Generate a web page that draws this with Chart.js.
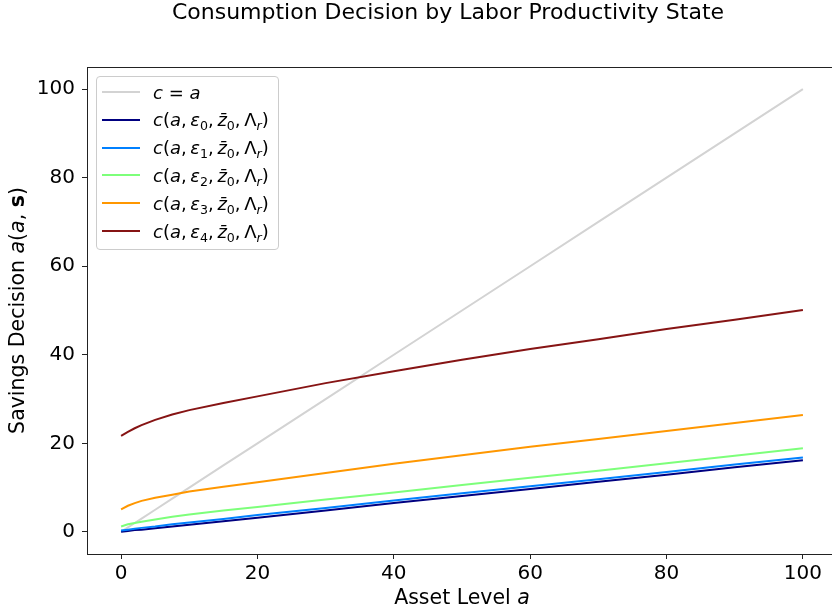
<!DOCTYPE html>
<html>
<head>
<meta charset="utf-8">
<script src="https://cdn.jsdelivr.net/npm/chart.js@4.4.0/dist/chart.umd.min.js"></script>
<style>
  html, body { margin: 0; padding: 0; background: #fff; }
  #wrap { position: relative; width: 832px; height: 614px; overflow: hidden; }
  #policyChart { position: absolute; left: 0; top: 0; }
  #legend {
    position: absolute; left: 96px; top: 76px; width: 181px; height: 172px;
    border: 1px solid #ccc; border-radius: 4px; background: rgba(255,255,255,0.8);
    font-family: 'DejaVu Sans'; font-size: 18px; color: #000;
  }
  #legend .row { position: absolute; left: 5px; height: 28px; display: flex; align-items: center; white-space: nowrap; }
  #legend .swatch { width: 38px; height: 2px; margin-right: 13px; }
  #legend sub { font-size: 70%; vertical-align: -0.3em; line-height: 0; }
</style>
</head>
<body>
<div id="wrap">
  <canvas id="policyChart" width="900" height="614"></canvas>
  <div id="legend"></div>
</div>
<script>
// asset grid and policy values per productivity state
const assetGrid = [0, 1, 2, 3, 5, 7.5, 10, 15, 20, 30, 40, 50, 60, 70, 80, 90, 100];
const diagonal  = [0, 1, 2, 3, 5, 7.5, 10, 15, 20, 30, 40, 50, 60, 70, 80, 90, 100];
const eps0 = [0.0, 0.2, 0.4, 0.5, 0.8, 1.2, 1.6, 2.4, 3.2, 4.8, 6.5, 8.1, 9.7, 11.3, 12.9, 14.6, 16.2];
const eps1 = [0.3, 0.5, 0.7, 0.9, 1.2, 1.7, 2.1, 2.9, 3.8, 5.4, 7.1, 8.7, 10.3, 11.9, 13.5, 15.2, 16.8];
const eps2 = [1.2, 1.7, 2.0, 2.3, 2.8, 3.4, 3.9, 4.8, 5.6, 7.3, 8.9, 10.6, 12.2, 13.8, 15.5, 17.2, 18.9];
const eps3 = [5.1, 5.9, 6.5, 7.0, 7.7, 8.4, 9.1, 10.2, 11.2, 13.3, 15.4, 17.3, 19.2, 21.0, 22.8, 24.6, 26.4];
const eps4 = [21.7, 22.6, 23.4, 24.1, 25.3, 26.5, 27.5, 29.1, 30.6, 33.6, 36.3, 38.9, 41.3, 43.5, 45.8, 47.9, 50.1];

const xTicks = [0, 20, 40, 60, 80, 100];
const yTicks = [0, 20, 40, 60, 80, 100];

const seriesNames = ['c = a', 'c(a, ε0, z̄0, Λr)', 'c(a, ε1, z̄0, Λr)', 'c(a, ε2, z̄0, Λr)', 'c(a, ε3, z̄0, Λr)', 'c(a, ε4, z̄0, Λr)'];
const seriesValues = [diagonal, eps0, eps1, eps2, eps3, eps4];
const seriesColors = ['#d3d3d3', '#000080', '#0080ff', '#7dff7a', '#ff9700', '#861414'];

const FONT = 'DejaVu Sans';

function mathLabel(i) {
  if (i === 0) return '<i>c</i> = <i>a</i>';
  return '<i>c</i>(<i>a</i>,&thinsp;<i>ε</i><sub>' + (i - 1) + '</sub>,&thinsp;<i>z&#772;</i><sub>0</sub>,&thinsp;Λ<sub><i>r</i></sub>)';
}

// legend box inside the axes
const legendEl = document.getElementById('legend');
seriesNames.forEach((name, i) => {
  const row = document.createElement('div');
  row.className = 'row';
  row.style.top = (1 + i * 27.8) + 'px';
  row.innerHTML = '<span class="swatch" style="background:' + seriesColors[i] + '"></span><span>' + mathLabel(i) + '</span>';
  legendEl.appendChild(row);
});

const datasets = seriesNames.map((name, i) => ({
  label: name,
  data: assetGrid.map((a, k) => ({ x: a, y: seriesValues[i][k] })),
  borderColor: seriesColors[i],
  backgroundColor: seriesColors[i],
  borderWidth: 2,
  pointRadius: 0,
  tension: 0,
  fill: false,
  order: seriesNames.length - i
}));

function drawRich(ctx, parts, cx, cy, angle, size) {
  const fontFor = s => (s === 'italic' ? 'italic ' : '') + (s === 'bold' ? 'bold ' : '') + size + 'px "' + FONT + '"';
  let total = 0;
  parts.forEach(p => { ctx.font = fontFor(p[1]); total += ctx.measureText(p[0]).width; });
  ctx.save();
  ctx.translate(cx, cy);
  ctx.rotate(angle);
  ctx.fillStyle = '#000';
  ctx.textBaseline = 'middle';
  ctx.textAlign = 'left';
  let x = -total / 2;
  parts.forEach(p => {
    ctx.font = fontFor(p[1]);
    ctx.fillText(p[0], x, 0);
    x += ctx.measureText(p[0]).width;
  });
  ctx.restore();
}

// spines, suptitle and axis labels
const frameAndTitles = {
  id: 'frameAndTitles',
  afterDraw(chart) {
    const { ctx, chartArea: a } = chart;
    ctx.save();
    ctx.strokeStyle = '#222';
    ctx.lineWidth = 1;
    ctx.strokeRect(a.left + 0.5, a.top + 0.5, a.right - a.left, a.bottom - a.top);
    ctx.restore();
    drawRich(ctx, [['Consumption Decision by Labor Productivity State', '']], 448, 13, 0, 22);
    drawRich(ctx, [['Asset Level ', ''], ['a', 'italic']], (a.left + a.right) / 2, 599, 0, 20.5);
    drawRich(ctx, [['Savings Decision ', ''], ['a', 'italic'], ['(', ''], ['a', 'italic'], [', ', ''], ['s', 'bold'], [')', '']],
      19, (a.top + a.bottom) / 2, -Math.PI / 2, 20.5);
  }
};

const axisStyle = {
  grid: { drawOnChartArea: false, drawTicks: true, tickLength: 5, color: '#222' },
  border: { display: true, color: '#222', width: 1 }
};

new Chart(document.getElementById('policyChart'), {
  type: 'line',
  data: { datasets },
  plugins: [frameAndTitles],
  options: {
    responsive: false,
    animation: false,
    layout: { padding: { left: 0, right: 63, top: 67, bottom: 0 } },
    plugins: { legend: { display: false }, tooltip: { enabled: false }, title: { display: false } },
    scales: {
      x: {
        type: 'linear', min: -5, max: 105,
        ...axisStyle,
        afterBuildTicks: s => { s.ticks = xTicks.map(v => ({ value: v })); },
        afterFit: s => { s.height = 60; },
        ticks: { font: { family: FONT, size: 20 }, color: '#000', padding: 3, maxRotation: 0 }
      },
      y: {
        type: 'linear', min: -5, max: 105,
        ...axisStyle,
        afterBuildTicks: s => { s.ticks = yTicks.map(v => ({ value: v })); },
        afterFit: s => { s.width = 87; },
        ticks: { font: { family: FONT, size: 20 }, color: '#000', padding: 7 }
      }
    }
  }
});
</script>
</body>
</html>
